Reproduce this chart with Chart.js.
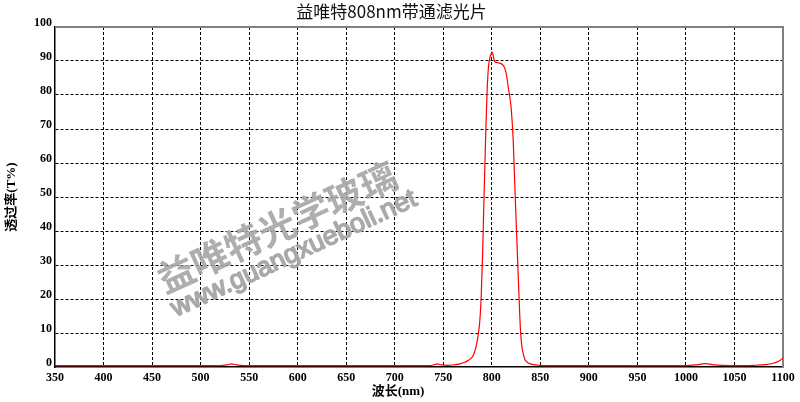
<!DOCTYPE html>
<html><head><meta charset="utf-8">
<script src="https://cdn.jsdelivr.net/npm/chart.js@4.4.0/dist/chart.umd.min.js"></script>
<style>html,body{margin:0;padding:0;background:#fff;overflow:hidden}#wrap{width:800px;height:402px}</style>
</head><body><div id="wrap"><canvas id="c" width="800" height="402"></canvas></div>
<script>
const chartTitle = '益唯特808nm带通滤光片';
const xAxisTitle = '波长(nm)';
const yAxisTitle = '透过率(T%)';
const watermarkCN = '益唯特光学玻璃';
const watermarkURL = 'www.guangxueboli.net';

const wavelengths = [350,400,450,500,520,527,532,537,545,600,650,700,735,740,744,748,755,762,768,772,775,778,780,782,784,786,787.5,789,790.5,792,793.5,795,796.5,798,799.3,800.3,801.2,802.2,803.5,806,809,811,812.5,814,815.5,817,818.5,820,822,824,826,828,829.5,831,832.5,834,836,839,843,849,855,900,950,1000,1010,1020,1030,1045,1070,1082,1090,1095,1100];
const transmittance = [0.4,0.4,0.4,0.4,0.4,0.6,0.9,0.6,0.4,0.4,0.4,0.4,0.4,0.6,0.9,0.6,0.5,0.7,1.0,1.4,1.8,2.4,3.0,4.2,6.2,9.5,13,20,33,50,66,80,88,91,92,92.7,92,90.5,89.7,89.5,89.3,88.9,88.4,87.3,85.3,82.2,79.5,76,67,51,36,21,11,6,3.8,2.3,1.5,1.0,0.7,0.5,0.4,0.4,0.4,0.4,0.6,1.0,0.6,0.4,0.5,0.7,1.1,1.6,2.6];

const xMin = 350, xMax = 1100, xStep = 50;
const yMin = 0, yMax = 100, yStep = 10;

const points = wavelengths.map((w, i) => ({x: w, y: transmittance[i]}));

const tickFont = {family: '"Liberation Serif", "Times New Roman", serif', size: 12, weight: 'bold'};

const decor = {
  id: 'decor',
  beforeDatasetsDraw(chart) {
    const {ctx, chartArea: a} = chart;
    ctx.save();
    ctx.strokeStyle = '#808080';
    ctx.lineWidth = 2;
    ctx.beginPath();
    ctx.moveTo(a.left, a.top);
    ctx.lineTo(a.right, a.top);
    ctx.lineTo(a.right, a.bottom);
    ctx.stroke();
    ctx.restore();
  },
  afterDraw(chart) {
    const {ctx} = chart;
    ctx.save();
    ctx.fillStyle = '#000';
    ctx.font = 'bold 13px "Liberation Serif", "Noto Sans CJK SC", serif';
    ctx.textAlign = 'center';
    ctx.textBaseline = 'middle';
    ctx.fillText(xAxisTitle, 398, 392);
    const gray = 'rgba(165,165,165,0.9)';
    ctx.fillStyle = gray;
    ctx.strokeStyle = gray;
    ctx.save();
    ctx.translate(277, 227);
    ctx.rotate(-24.7 * Math.PI / 180);
    ctx.font = 'bold 37px "Noto Sans CJK SC", sans-serif';
    ctx.fillText(watermarkCN, 0, 0);
    ctx.restore();
    ctx.save();
    ctx.translate(294, 254);
    ctx.rotate(-24.9 * Math.PI / 180);
    ctx.font = '30px "Liberation Sans", Arial, sans-serif';
    const w = ctx.measureText(watermarkURL).width;
    const fs = 30 * 268 / w;
    ctx.font = fs.toFixed(2) + 'px "Liberation Sans", Arial, sans-serif';
    ctx.lineWidth = 1.6;
    ctx.lineJoin = 'round';
    ctx.strokeText(watermarkURL, 0, 0);
    ctx.fillText(watermarkURL, 0, 0);
    ctx.restore();
    ctx.restore();
  }
};

new Chart(document.getElementById('c'), {
  type: 'line',
  data: {
    datasets: [{
      data: points,
      borderColor: '#ff0000',
      borderWidth: 1.2,
      pointRadius: 0,
      fill: false,
      cubicInterpolationMode: 'monotone'
    }]
  },
  options: {
    responsive: false,
    animation: false,
    devicePixelRatio: 1,
    layout: {padding: {left: 0, right: 17, top: 0, bottom: 0}},
    plugins: {
      legend: {display: false},
      tooltip: {enabled: false},
      title: {
        display: true,
        text: chartTitle,
        color: '#111',
        font: {family: '"Noto Sans CJK SC", sans-serif', size: 17, weight: 'normal'},
        padding: {top: 1.8, bottom: 4.8}
      }
    },
    scales: {
      x: {
        type: 'linear',
        min: xMin, max: xMax,
        afterFit(scale) { scale.height = 35; },
        ticks: {stepSize: xStep, autoSkip: false, maxRotation: 0, padding: 4, color: '#000', font: tickFont,
          callback: v => String(v)},
        grid: {
          drawTicks: false,
          color: c => (c.tick && (c.tick.value === xMin || c.tick.value === xMax)) ? 'rgba(0,0,0,0)' : '#000',
          lineWidth: 1
        },
        border: {display: true, color: '#000', width: 1.5, dash: [3, 2]}
      },
      y: {
        min: yMin, max: yMax,
        afterFit(scale) { scale.width = 55; },
        ticks: {stepSize: yStep, padding: 3, labelOffset: -4, color: '#000', font: tickFont,
          callback: v => String(v)},
        grid: {
          drawTicks: false,
          color: c => (c.tick && (c.tick.value === yMin || c.tick.value === yMax)) ? 'rgba(0,0,0,0)' : '#000',
          lineWidth: 1
        },
        border: {display: true, color: '#000', width: 1.5, dash: [3, 2]},
        title: {
          display: true,
          text: yAxisTitle,
          color: '#000',
          font: {family: '"Liberation Serif", "Noto Sans CJK SC", serif', size: 13, weight: 'bold'},
          padding: {top: 4, bottom: 0}
        }
      }
    }
  },
  plugins: [decor]
});
</script></body></html>
